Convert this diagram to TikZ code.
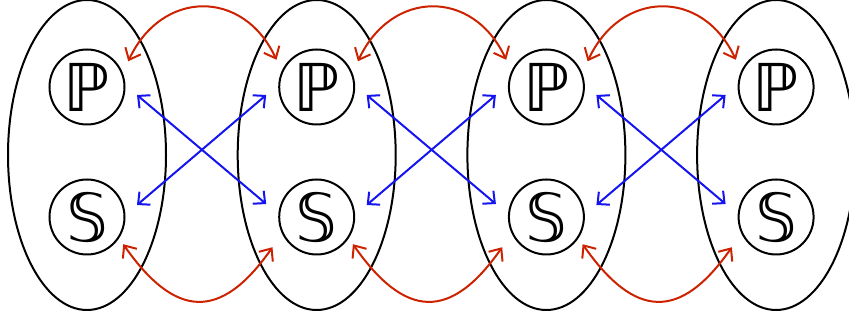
\documentclass[tikz,border=0pt]{standalone}
\usepackage{fontspec}
\newfontfamily\dsfont{DejaVu Sans}
\usetikzlibrary{arrows.meta,shapes.geometric}
\definecolor{arcred}{RGB}{204,34,0}
\definecolor{crossblue}{RGB}{20,20,240}

\begin{document}
\begin{tikzpicture}[
    x=1pt, y=1pt,
    group/.style={draw, ellipse, line width=2pt, minimum width=158pt, minimum height=310pt, inner sep=0pt},
    state/.style={draw, circle, line width=2pt, minimum size=75pt, inner sep=0pt, font=\dsfont\fontsize{66}{70}\selectfont},
    swap/.style={{Straight Barb[length=10pt,width=17pt]}-{Straight Barb[length=10pt,width=17pt]}, line width=2pt, arcred},
    cross/.style={{Straight Barb[length=9pt,width=17pt]}-{Straight Barb[length=9pt,width=17pt]}, line width=2pt, crossblue}
]
\useasboundingbox (0,0) rectangle (849,320);

% one group per column
\foreach \i in {1,...,4} {
  \node[group] (E\i) at ({87+229.7*(\i-1)},165) {};
  \node[state] (P\i) at ({87+229.7*(\i-1)},233) {ℙ};
  \node[state] (S\i) at ({87+229.7*(\i-1)},103) {𝕊};
}

% links between neighbouring groups
\foreach \i [evaluate=\i as \j using int(\i+1)] in {1,2,3} {
  \draw[swap] ([xshift=14pt,yshift=-1.5pt]P\i.north east) to[out=65,in=115,looseness=1.36] ([xshift=-13pt]P\j.north west);
  \draw[swap] ([xshift=9pt]S\i.south east) to[out=-55,in=-125,looseness=1.55] ([xshift=-17pt,yshift=-3pt]S\j.south west);
  \draw[cross] ([shift={(11.5,-8)}]P\i.east) -- ([shift={(-12,13)}]S\j.west);
  \draw[cross] ([shift={(11.5,12)}]S\i.east) -- ([shift={(-12,-8)}]P\j.west);
}
\end{tikzpicture}
\end{document}
